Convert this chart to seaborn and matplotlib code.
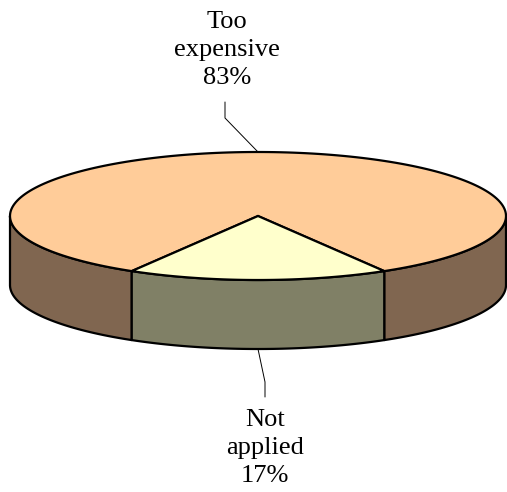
import matplotlib
matplotlib.use("Agg")
import matplotlib.pyplot as plt
import numpy as np
import seaborn as sns
from matplotlib.patches import Polygon

# ── Data ──────────────────────────────────────────────────────────────────────
categories = ["Too\nexpensive", "Not\napplied"]
shares = [83, 17]
top_colors = ["#FFCC99", "#FFFFCC"]
side_colors = ["#806650", "#808066"]

# ── Geometry (pixel space) ────────────────────────────────────────────────────
CX, CY = 258, 216      # centre of top face
A, B = 248, 64         # ellipse radii
DEPTH = 69             # thickness of the disc

sns.set_theme(style="white")
plt.rcParams["font.family"] = ["Liberation Serif", "DejaVu Serif"]

fig = plt.figure(figsize=(5.07, 4.92), dpi=100)
ax = fig.add_axes([0, 0, 1, 1])
ax.set_xlim(0, 507)
ax.set_ylim(492, 0)
ax.axis("off")


def arc(t0, t1, dy=0, n=200):
    t = np.radians(np.linspace(t0, t1, n))
    return np.column_stack([CX + A * np.cos(t), CY + dy + B * np.sin(t)])


# slice angles: the small slice is centred at the front (90° in screen space)
fracs = np.array(shares) / sum(shares)
small_span = fracs[1] * 360
starts = [90 + small_span / 2, 90 - small_span / 2]
ends = [90 - small_span / 2 + 360, 90 + small_span / 2]
mids = [(s + e) / 2 for s, e in zip(starts, ends)]

lw = 1.6
# sides (only the front half, 0..180 deg, is visible)
for s, e, col in zip(starts, ends, side_colors):
    for off in (0, 360, -360):
        lo, hi = max(s + off, 0), min(e + off, 180)
        if hi > lo:
            top = arc(lo, hi)
            bot = arc(hi, lo, dy=DEPTH)
            ax.add_patch(Polygon(np.vstack([top, bot]), closed=True,
                                 facecolor=col, edgecolor="black", lw=lw,
                                 joinstyle="round"))

# top face
for s, e, col in zip(starts, ends, top_colors):
    pts = np.vstack([[CX, CY], arc(s, e)])
    ax.add_patch(Polygon(pts, closed=True, facecolor=col, edgecolor="black",
                         lw=lw, joinstyle="miter"))

# labels + leader lines
txt_kw = dict(ha="center", va="center", fontsize=19, linespacing=1.36,
              color="black")
# big slice: label above the back edge
m = np.radians(mids[0])
px, py = CX + A * np.cos(m), CY + B * np.sin(m)
ax.plot([225, 225, px], [102, 118, py], color="black", lw=0.7)
ax.text(227, 50, f"{categories[0]}\n{shares[0]}%", **txt_kw)

# small slice: label below the front edge
m = np.radians(mids[1])
px, py = CX + A * np.cos(m), CY + B * np.sin(m) + DEPTH
ax.plot([px, 265, 265], [py, 382, 397], color="black", lw=0.7)
ax.text(265, 448, f"{categories[1]}\n{shares[1]}%", **txt_kw)

fig.savefig("out.png", dpi=100)
